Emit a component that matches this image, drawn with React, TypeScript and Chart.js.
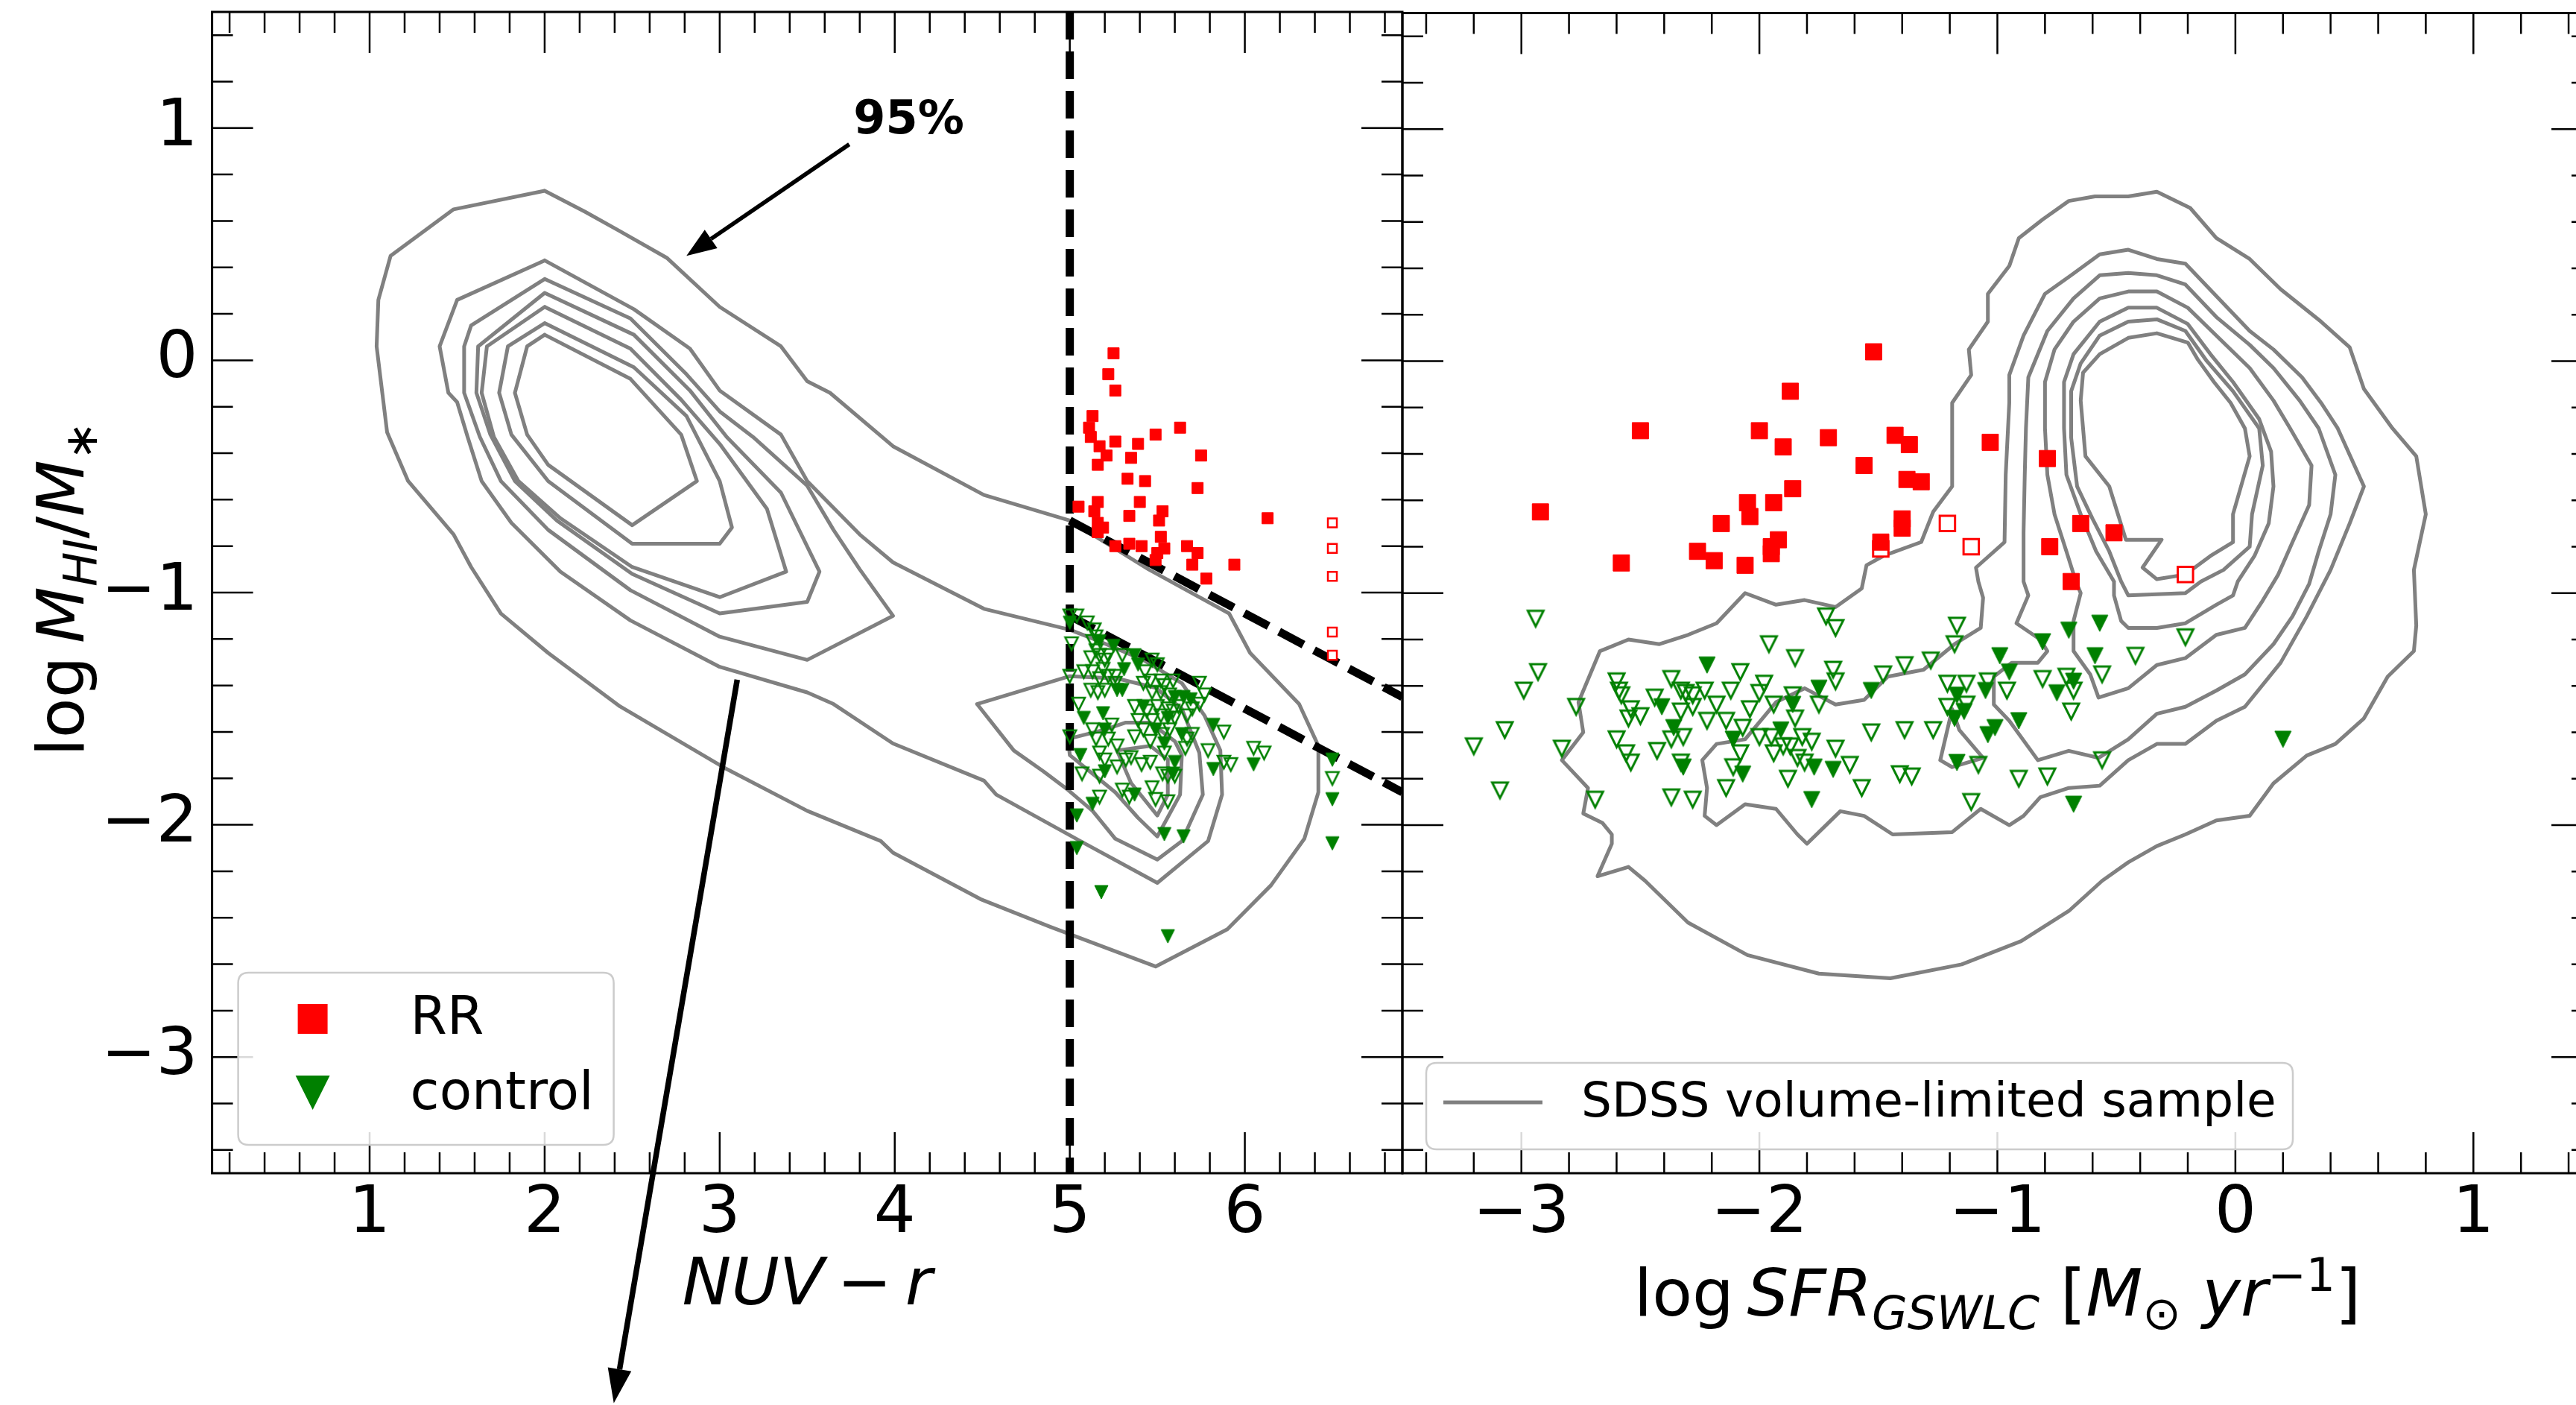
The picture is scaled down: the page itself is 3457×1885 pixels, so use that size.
import React, { useEffect, useRef } from 'react';
import { Chart, registerables } from 'chart.js';

Chart.register(...registerables);

type P = [number, number];

// ---------------- axes ----------------
const Y_MIN = -3.5, Y_MAX = 1.5;
const LEFT_X_MIN = 0.1, LEFT_X_MAX = 6.9;
const RIGHT_X_MIN = -3.5, RIGHT_X_MAX = 1.5;
const Y_TICKS = [-3, -2, -1, 0, 1];
const LEFT_X_TICKS = [1, 2, 3, 4, 5, 6];
const RIGHT_X_TICKS = [-3, -2, -1, 0, 1];
const MINOR_STEP = 0.2;

// ---------------- left panel: NUV - r ----------------
const leftRRFilled: P[] = [
  [5.25, 0.03], [5.22, -0.06], [5.26, -0.13], [5.13, -0.24], [5.11, -0.29], [5.12, -0.33], [5.17, -0.37],
  [5.26, -0.35], [5.21, -0.41], [5.16, -0.45], [5.39, -0.36], [5.49, -0.32], [5.63, -0.29], [5.35, -0.42],
  [5.75, -0.41], [5.33, -0.51], [5.43, -0.52], [5.73, -0.55], [5.05, -0.63], [5.16, -0.61], [5.14, -0.65],
  [5.40, -0.61], [5.34, -0.67], [5.53, -0.65], [5.51, -0.69], [5.16, -0.70], [5.19, -0.72], [5.16, -0.74],
  [5.26, -0.80], [5.34, -0.79], [5.41, -0.80], [5.52, -0.76], [5.54, -0.81], [5.50, -0.83], [5.49, -0.86],
  [5.67, -0.80], [5.73, -0.83], [5.70, -0.88], [5.78, -0.94], [5.94, -0.88], [6.13, -0.68],
];
const leftRROpen: P[] = [[6.5, -0.70], [6.5, -0.81], [6.5, -0.93], [6.5, -1.17], [6.5, -1.27]];

const leftCtrlFilled: P[] = [
  [5.00, -1.13], [5.17, -1.21], [5.25, -1.23], [5.37, -1.27], [5.39, -1.31], [5.31, -1.33], [5.27, -1.42],
  [5.30, -1.42], [5.60, -1.45], [5.65, -1.45], [5.69, -1.46], [5.08, -1.54], [5.19, -1.52], [5.42, -1.49],
  [5.56, -1.54], [5.20, -1.59], [5.49, -1.59], [5.64, -1.61], [5.54, -1.65], [5.82, -1.57], [5.06, -1.70],
  [5.60, -1.73], [5.20, -1.77], [5.59, -1.78], [5.82, -1.76], [6.05, -1.74], [5.37, -1.87], [5.13, -1.91],
  [5.04, -1.96], [5.54, -2.04], [5.65, -2.05], [5.04, -2.10], [5.18, -2.29], [5.56, -2.48], [6.50, -1.72],
  [6.50, -1.89], [6.50, -2.08],
];
const leftCtrlOpen: P[] = [
  [5.00, -1.10], [5.04, -1.10], [5.10, -1.13], [5.14, -1.16], [5.15, -1.19], [5.01, -1.22], [5.13, -1.21],
  [5.15, -1.25], [5.12, -1.28], [5.17, -1.27], [5.22, -1.27], [5.30, -1.27], [5.20, -1.29], [5.47, -1.29],
  [5.50, -1.31], [5.08, -1.34], [5.00, -1.36], [5.13, -1.34], [5.19, -1.33], [5.26, -1.36], [5.43, -1.34],
  [5.22, -1.36], [5.17, -1.37], [5.12, -1.42], [5.16, -1.43], [5.20, -1.42], [5.26, -1.39], [5.42, -1.39],
  [5.46, -1.38], [5.52, -1.38], [5.59, -1.38], [5.54, -1.40], [5.74, -1.39], [5.47, -1.43], [5.52, -1.43],
  [5.57, -1.44], [5.77, -1.44], [5.74, -1.48], [5.05, -1.48], [5.37, -1.49], [5.44, -1.51], [5.50, -1.49],
  [5.56, -1.50], [5.59, -1.51], [5.62, -1.49], [5.70, -1.50], [5.67, -1.53], [5.39, -1.55], [5.47, -1.55],
  [5.52, -1.53], [5.60, -1.54], [5.00, -1.62], [5.13, -1.59], [5.24, -1.57], [5.15, -1.63], [5.22, -1.63],
  [5.27, -1.66], [5.37, -1.62], [5.42, -1.59], [5.46, -1.64], [5.53, -1.61], [5.57, -1.59], [5.70, -1.61],
  [5.67, -1.63], [5.66, -1.67], [5.54, -1.69], [5.79, -1.68], [5.88, -1.60], [5.17, -1.69], [5.20, -1.72],
  [5.32, -1.72], [5.35, -1.71], [5.41, -1.74], [5.46, -1.73], [5.07, -1.78], [5.17, -1.79], [5.27, -1.75],
  [5.53, -1.78], [5.56, -1.79], [5.60, -1.79], [5.88, -1.73], [5.92, -1.74], [6.05, -1.67], [6.11, -1.69],
  [5.30, -1.85], [5.34, -1.88], [5.47, -1.84], [5.49, -1.89], [5.56, -1.90], [5.17, -1.88], [6.50, -1.80],
];

// SDSS density contours, left panel
const leftContourA: P[] = [
  [2.00, 0.73], [2.23, 0.64], [2.42, 0.56], [2.70, 0.44], [3.00, 0.23], [3.35, 0.06], [3.50, -0.09], [3.63, -0.14],
  [3.99, -0.37], [4.51, -0.58], [5.00, -0.69], [5.45, -0.90], [5.91, -1.09], [6.03, -1.26], [6.31, -1.48],
  [6.42, -1.66], [6.42, -1.86], [6.34, -2.06], [6.15, -2.26], [5.90, -2.45], [5.49, -2.61], [4.89, -2.44],
  [4.49, -2.32], [3.99, -2.12], [3.92, -2.07], [3.50, -1.94], [3.04, -1.76], [2.43, -1.49], [2.02, -1.26],
  [1.75, -1.09], [1.58, -0.89], [1.48, -0.75], [1.22, -0.52], [1.10, -0.31], [1.04, 0.06], [1.05, 0.26],
  [1.12, 0.45], [1.48, 0.65], [2.00, 0.73],
];
const leftContourB: P[] = [
  [2.00, 0.43], [2.51, 0.22], [2.83, 0.05], [3.00, -0.13], [3.35, -0.32], [3.50, -0.52], [3.80, -0.75],
  [3.99, -0.87], [4.51, -1.07], [5.00, -1.16], [5.17, -1.21], [5.42, -1.29], [5.64, -1.39], [5.77, -1.53],
  [5.86, -1.68], [5.87, -1.87], [5.79, -2.07], [5.50, -2.25], [5.06, -2.07], [4.58, -1.87], [4.51, -1.81],
  [3.99, -1.65], [3.65, -1.48], [3.50, -1.43], [3.00, -1.32], [2.49, -1.12], [2.09, -0.91], [1.81, -0.70],
  [1.64, -0.52], [1.56, -0.33], [1.50, -0.18], [1.45, -0.14], [1.40, 0.06], [1.50, 0.26], [2.00, 0.43],
];
const leftContourC: P[] = [
  [2.00, 0.35], [2.49, 0.18], [2.81, -0.06], [3.00, -0.22], [3.19, -0.33], [3.50, -0.54], [3.65, -0.73],
  [3.80, -0.90], [3.99, -1.10], [3.50, -1.29], [3.00, -1.19], [2.49, -0.99], [2.02, -0.73], [1.75, -0.52],
  [1.63, -0.33], [1.54, -0.14], [1.54, 0.06], [1.58, 0.15], [2.00, 0.35],
];
const leftContourD: P[] = [
  [2.00, 0.29], [2.51, 0.11], [2.83, -0.13], [3.04, -0.33], [3.35, -0.57], [3.57, -0.91], [3.50, -1.04],
  [3.00, -1.09], [2.50, -0.92], [2.07, -0.69], [1.83, -0.52], [1.69, -0.32], [1.61, -0.14], [1.62, 0.06],
  [2.00, 0.29],
];
const leftContourE: P[] = [
  [2.00, 0.23], [2.49, 0.05], [2.78, -0.17], [3.00, -0.36], [3.27, -0.64], [3.38, -0.91], [3.00, -1.02],
  [2.50, -0.89], [2.09, -0.68], [1.85, -0.52], [1.71, -0.33], [1.64, -0.14], [1.67, 0.06], [2.00, 0.23],
];
const leftContourF: P[] = [
  [2.00, 0.16], [2.51, -0.03], [2.81, -0.24], [3.00, -0.52], [3.07, -0.72], [3.00, -0.79], [2.50, -0.79],
  [2.02, -0.52], [1.81, -0.32], [1.74, -0.14], [1.79, 0.06], [2.00, 0.16],
];
const leftContourG: P[] = [
  [2.00, 0.11], [2.49, -0.08], [2.78, -0.32], [2.87, -0.52], [2.50, -0.71], [2.02, -0.45], [1.90, -0.32],
  [1.83, -0.14], [1.90, 0.06], [2.00, 0.11],
];
const leftContourRed1: P[] = [
  [4.47, -1.48], [5.00, -1.36], [5.27, -1.37], [5.49, -1.41], [5.64, -1.50], [5.74, -1.69], [5.76, -1.87],
  [5.64, -2.07], [5.50, -2.15], [5.26, -2.06], [5.13, -1.94], [4.99, -1.85], [4.85, -1.77], [4.68, -1.68],
  [4.47, -1.48],
];
const leftContourRed2: P[] = [
  [4.99, -1.63], [5.20, -1.59], [5.32, -1.56], [5.46, -1.56], [5.60, -1.64], [5.64, -1.70], [5.63, -1.87],
  [5.50, -2.05], [5.39, -1.97], [5.26, -1.86], [5.13, -1.78], [5.00, -1.70], [4.99, -1.63],
];
const leftContourRed3: P[] = [
  [5.27, -1.68], [5.35, -1.82], [5.50, -1.96], [5.56, -1.87], [5.56, -1.72], [5.46, -1.66], [5.27, -1.68],
];
const leftContours = [leftContourA, leftContourB, leftContourC, leftContourD, leftContourE, leftContourF,
  leftContourG, leftContourRed1, leftContourRed2, leftContourRed3];

// selection lines
const cutVertical: P[] = [[5, 1.5], [5, -3.5]];
const cutUpper: P[] = [[5, -0.69], [6.9, -1.45]];
const cutLower: P[] = [[5, -1.10], [6.9, -1.86]];

// annotations (data coordinates of the left panel)
const LABEL_95 = '95%';
const LABEL_95_POS: P = [4.08, 1.03];
const ARROW_95: P[] = [[3.74, 0.93], [2.81, 0.45]];
const ARROW_LONG: P[] = [[3.10, -1.375], [2.395, -4.49]];

// ---------------- right panel: log SFR ----------------
const rightRRFilled: P[] = [
  [-1.52, 0.04], [-1.87, -0.13], [-2.50, -0.30], [-2.00, -0.30], [-1.71, -0.33], [-1.90, -0.37], [-1.43, -0.32],
  [-1.37, -0.36], [-1.56, -0.45], [-1.03, -0.35], [-0.79, -0.42], [-1.38, -0.51], [-1.32, -0.52], [-1.86, -0.55],
  [-2.05, -0.61], [-1.94, -0.61], [-2.04, -0.67], [-2.16, -0.70], [-2.92, -0.65], [-1.40, -0.68], [-1.40, -0.72],
  [-1.92, -0.77], [-1.95, -0.80], [-1.95, -0.83], [-2.26, -0.82], [-2.19, -0.86], [-2.06, -0.88], [-2.58, -0.87],
  [-0.65, -0.70], [-0.51, -0.74], [-0.78, -0.80], [-0.69, -0.95], [-1.49, -0.78],
];
const rightRROpen: P[] = [[-1.21, -0.70], [-1.11, -0.80], [-1.49, -0.81], [-0.21, -0.92]];

const rightCtrlFilled: P[] = [
  [-2.41, -1.49], [-2.22, -1.31], [-1.75, -1.41], [-1.86, -1.48], [-2.36, -1.58], [-2.32, -1.75], [-2.11, -1.63],
  [-2.07, -1.78], [-1.91, -1.59], [-1.77, -1.75], [-1.69, -1.76], [-1.78, -1.89], [-1.53, -1.42], [-1.17, -1.44],
  [-1.14, -1.51], [-1.18, -1.54], [-1.05, -1.42], [-0.99, -1.27], [-0.95, -1.34], [-0.81, -1.21], [-0.68, -1.38],
  [-0.75, -1.43], [-0.70, -1.16], [-0.57, -1.13], [-0.59, -1.27], [-1.17, -1.73], [-1.01, -1.58], [-1.04, -1.61],
  [-0.91, -1.55], [-0.68, -1.91], [0.20, -1.63],
];
const rightCtrlOpen: P[] = [
  [-2.94, -1.11], [-2.93, -1.34], [-2.99, -1.42], [-2.77, -1.49], [-3.07, -1.59], [-3.20, -1.66], [-2.83, -1.67],
  [-3.09, -1.85], [-2.69, -1.89], [-2.60, -1.38], [-2.59, -1.42], [-2.58, -1.44], [-2.54, -1.50], [-2.50, -1.53],
  [-2.55, -1.54], [-2.44, -1.45], [-2.37, -1.37], [-2.33, -1.42], [-2.31, -1.43], [-2.28, -1.44], [-2.23, -1.42],
  [-2.28, -1.49], [-2.33, -1.51], [-2.18, -1.48], [-2.22, -1.55], [-2.14, -1.55], [-2.12, -1.42], [-2.08, -1.34],
  [-2.07, -1.58], [-2.04, -1.50], [-2.00, -1.43], [-1.98, -1.39], [-1.94, -1.48], [-1.96, -1.22], [-1.85, -1.28],
  [-1.72, -1.10], [-1.68, -1.15], [-1.69, -1.33], [-1.68, -1.38], [-1.75, -1.48], [-1.86, -1.44], [-1.85, -1.54],
  [-2.37, -1.63], [-2.32, -1.62], [-2.60, -1.63], [-2.56, -1.69], [-2.54, -1.73], [-2.43, -1.68], [-2.33, -1.73],
  [-2.37, -1.88], [-2.28, -1.89], [-2.08, -1.69], [-2.11, -1.75], [-2.14, -1.84], [-2.00, -1.62], [-1.95, -1.62],
  [-1.94, -1.69], [-1.90, -1.66], [-1.87, -1.66], [-1.82, -1.62], [-1.78, -1.64], [-1.84, -1.71], [-1.81, -1.73],
  [-1.68, -1.67], [-1.88, -1.80], [-1.17, -1.14], [-1.18, -1.22], [-1.28, -1.29], [-1.39, -1.31], [-1.48, -1.35],
  [-1.21, -1.39], [-1.13, -1.39], [-1.21, -1.49], [-1.13, -1.48], [-1.04, -1.38], [-0.96, -1.42], [-0.81, -1.37],
  [-0.71, -1.36], [-0.68, -1.42], [-0.69, -1.51], [-0.56, -1.35], [-0.42, -1.27], [-0.21, -1.19], [-1.53, -1.60],
  [-1.39, -1.59], [-1.27, -1.59], [-1.62, -1.74], [-1.57, -1.84], [-1.41, -1.78], [-1.36, -1.79], [-1.08, -1.74],
  [-1.11, -1.90], [-0.91, -1.80], [-0.79, -1.79], [-0.56, -1.72],
];

const rightContour1: P[] = [
  [-0.45, 0.71], [-0.33, 0.73], [-0.19, 0.66], [-0.08, 0.53], [0.06, 0.44], [0.19, 0.31], [0.36, 0.17],
  [0.48, 0.06], [0.54, -0.12], [0.66, -0.29], [0.76, -0.41], [0.80, -0.66], [0.75, -0.90], [0.76, -1.14],
  [0.75, -1.25], [0.64, -1.36], [0.54, -1.54], [0.42, -1.65], [0.30, -1.70], [0.16, -1.82], [0.06, -1.96],
  [-0.08, -1.98], [-0.21, -2.04], [-0.33, -2.09], [-0.45, -2.16], [-0.56, -2.24], [-0.70, -2.37], [-0.90, -2.50],
  [-1.15, -2.60], [-1.45, -2.66], [-1.75, -2.64], [-2.05, -2.56], [-2.30, -2.42], [-2.48, -2.24], [-2.55, -2.18],
  [-2.68, -2.22], [-2.62, -2.08], [-2.62, -2.04], [-2.66, -1.99], [-2.74, -1.95], [-2.72, -1.84], [-2.83, -1.72],
  [-2.74, -1.60], [-2.76, -1.47], [-2.67, -1.25], [-2.55, -1.20], [-2.42, -1.22], [-2.30, -1.18], [-2.18, -1.13],
  [-2.06, -1.00], [-1.93, -1.05], [-1.81, -1.03], [-1.68, -1.06], [-1.57, -0.98], [-1.55, -0.88], [-1.48, -0.84],
  [-1.32, -0.78], [-1.27, -0.65], [-1.19, -0.54], [-1.19, -0.18], [-1.11, -0.06], [-1.12, 0.05], [-1.04, 0.17],
  [-1.04, 0.29], [-0.95, 0.41], [-0.91, 0.53], [-0.81, 0.61], [-0.70, 0.69], [-0.59, 0.71], [-0.45, 0.71],
];
const rightContour2: P[] = [
  [-0.97, -0.78], [-0.965, -0.49], [-0.95, -0.18], [-0.95, -0.06], [-0.89, 0.11], [-0.80, 0.29], [-0.69, 0.37],
  [-0.57, 0.46], [-0.45, 0.48], [-0.33, 0.44], [-0.21, 0.42], [-0.08, 0.28], [0.06, 0.13], [0.16, 0.05],
  [0.28, -0.07], [0.36, -0.18], [0.43, -0.29], [0.54, -0.54], [0.48, -0.70], [0.40, -0.90], [0.30, -1.10],
  [0.19, -1.30], [0.04, -1.49], [-0.08, -1.55], [-0.21, -1.65], [-0.33, -1.65], [-0.45, -1.72], [-0.57, -1.83],
  [-0.70, -1.84], [-0.82, -1.88], [-0.89, -1.96], [-0.95, -2.00], [-1.07, -1.93], [-1.19, -2.03], [-1.44, -2.04],
  [-1.56, -1.96], [-1.66, -1.94], [-1.80, -2.08], [-1.84, -2.04], [-1.93, -1.93], [-2.06, -1.91], [-2.18, -2.00],
  [-2.23, -1.96], [-2.22, -1.84], [-2.24, -1.72], [-2.18, -1.65], [-2.06, -1.63], [-1.93, -1.47], [-1.81, -1.41],
  [-1.68, -1.48], [-1.56, -1.46], [-1.46, -1.36], [-1.31, -1.33], [-1.18, -1.22], [-1.07, -1.15], [-1.06, -1.02],
  [-1.08, -0.95], [-1.09, -0.89], [-0.97, -0.78],
];
const rightContour3: P[] = [
  [-0.89, -0.95], [-0.89, -0.74], [-0.885, -0.49], [-0.88, -0.29], [-0.87, -0.07], [-0.79, 0.13], [-0.68, 0.27],
  [-0.57, 0.37], [-0.45, 0.38], [-0.33, 0.37], [-0.21, 0.33], [-0.08, 0.19], [0.06, 0.07], [0.16, -0.03],
  [0.27, -0.17], [0.35, -0.29], [0.42, -0.49], [0.40, -0.66], [0.35, -0.82], [0.31, -0.96], [0.24, -1.10],
  [0.16, -1.22], [0.04, -1.35], [-0.08, -1.42], [-0.21, -1.49], [-0.33, -1.52], [-0.45, -1.63], [-0.575, -1.71],
  [-0.70, -1.68], [-0.83, -1.72], [-0.95, -1.55], [-1.015, -1.48], [-1.015, -1.36], [-0.94, -1.30], [-0.83, -1.30],
  [-0.79, -1.25], [-0.82, -1.20], [-0.92, -1.13], [-0.87, -1.01], [-0.89, -0.95],
];
const rightContour3Island: P[] = [
  [-1.24, -1.72], [-1.19, -1.75], [-1.06, -1.71], [-1.16, -1.59], [-1.19, -1.50], [-1.24, -1.72],
];
const rightContour4: P[] = [
  [-0.67, -0.95], [-0.71, -0.82], [-0.76, -0.66], [-0.79, -0.49], [-0.80, -0.29], [-0.80, -0.09], [-0.76, 0.05],
  [-0.68, 0.17], [-0.57, 0.27], [-0.45, 0.30], [-0.33, 0.30], [-0.20, 0.23], [-0.08, 0.11], [0.06, -0.03],
  [0.16, -0.17], [0.23, -0.29], [0.32, -0.45], [0.31, -0.62], [0.24, -0.78], [0.18, -0.92], [0.11, -1.04],
  [0.04, -1.15], [-0.08, -1.18], [-0.21, -1.28], [-0.33, -1.31], [-0.45, -1.41], [-0.575, -1.45], [-0.61, -1.35],
  [-0.68, -1.25], [-0.68, -1.12], [-0.65, -1.00], [-0.67, -0.95],
];
const rightContour5: P[] = [
  [-0.51, -0.95], [-0.585, -0.82], [-0.65, -0.66], [-0.71, -0.49], [-0.72, -0.29], [-0.72, -0.09], [-0.68, 0.03],
  [-0.57, 0.17], [-0.45, 0.23], [-0.33, 0.23], [-0.20, 0.16], [-0.105, 0.03], [-0.01, -0.09], [0.10, -0.25],
  [0.15, -0.39], [0.16, -0.54], [0.14, -0.70], [0.08, -0.84], [0.01, -0.95], [-0.01, -1.01], [-0.08, -1.05],
  [-0.21, -1.13], [-0.33, -1.15], [-0.45, -1.15], [-0.48, -1.12], [-0.51, -1.01], [-0.51, -0.95],
];
const rightContour6: P[] = [
  [-0.48, -0.95], [-0.53, -0.82], [-0.60, -0.68], [-0.665, -0.54], [-0.69, -0.33], [-0.69, -0.13], [-0.65, -0.01],
  [-0.57, 0.11], [-0.45, 0.17], [-0.33, 0.18], [-0.21, 0.13], [-0.12, 0.00], [-0.01, -0.13], [0.10, -0.29],
  [0.115, -0.45], [0.07, -0.66], [0.06, -0.80], [-0.05, -0.90], [-0.145, -0.95], [-0.21, -1.00], [-0.45, -1.01],
  [-0.48, -0.95],
];
const rightContour7: P[] = [
  [-0.57, 0.03], [-0.45, 0.10], [-0.33, 0.12], [-0.20, 0.08], [-0.16, 0.01], [-0.09, -0.09], [-0.02, -0.18],
  [0.04, -0.29], [0.06, -0.41], [-0.01, -0.66], [-0.01, -0.78], [-0.105, -0.84], [-0.21, -0.92], [-0.33, -0.94],
  [-0.39, -0.89], [-0.31, -0.77], [-0.46, -0.77], [-0.53, -0.54], [-0.63, -0.41], [-0.65, -0.17], [-0.64, -0.05],
  [-0.57, 0.03],
];
const rightContours = [rightContour1, rightContour2, rightContour3, rightContour3Island, rightContour4,
  rightContour5, rightContour6, rightContour7];

// ---------------- texts ----------------
type Seg = { t: string; it?: boolean; sc?: number; dy?: number };
const LEFT_X_TITLE: Seg[] = [{ t: 'NUV', it: true }, { t: '\u2009\u2212\u2009' }, { t: 'r', it: true }];
const RIGHT_X_TITLE: Seg[] = [
  { t: 'log' }, { t: '\u2009' }, { t: 'SFR', it: true }, { t: 'GSWLC', it: true, sc: 0.7, dy: 0.2 },
  { t: ' [' }, { t: 'M', it: true }, { t: '\u2299', sc: 0.7, dy: 0.2 }, { t: ' ' }, { t: 'yr', it: true },
  { t: '\u22121', sc: 0.7, dy: -0.38 }, { t: ']' },
];
const Y_TITLE: Seg[] = [
  { t: 'log' }, { t: '\u2009' }, { t: 'M', it: true }, { t: 'HI', it: true, sc: 0.7, dy: 0.2 }, { t: '/' },
  { t: 'M', it: true }, { t: '\u2217', sc: 0.7, dy: 0.2 },
];
const LEGEND_LEFT = ['RR', 'control'];
const LEGEND_RIGHT = ['SDSS volume-limited sample'];

// ---------------- styling ----------------
const FONT = '"DejaVu Sans", sans-serif';
const RED = '#ff0000';
const GREEN = '#008000';
const GRAY = '#808080';
const CLIP0 = { left: 0, top: 0, right: 0, bottom: 0 };
const PAGE_W = 3457, PAGE_H = 1885;
const LEFT_CANVAS = { x: 0, w: 1920, pad: { left: 284.6, top: 16, right: 38, bottom: 311 } };
const RIGHT_CANVAS = { x: 1860, w: 1640, pad: { left: 22, top: 16, right: 21, bottom: 311 } };

const toXY = (a: P[]) => a.map(([x, y]) => ({ x, y }));

function triImg(size: number, filled: boolean, color: string, lw: number) {
  const pad = Math.ceil(lw) + 1;
  const c = document.createElement('canvas');
  c.width = Math.round(size + 2 * pad);
  c.height = Math.round(size + 2 * pad);
  const g = c.getContext('2d')!;
  g.beginPath();
  g.moveTo(pad, pad);
  g.lineTo(pad + size, pad);
  g.lineTo(pad + size / 2, pad + size);
  g.closePath();
  if (filled) {
    g.fillStyle = color;
    g.fill();
    g.lineWidth = 1;
    g.strokeStyle = color;
    g.stroke();
  } else {
    g.lineJoin = 'miter';
    g.strokeStyle = color;
    g.lineWidth = lw;
    g.stroke();
  }
  return c;
}

function segFont(s: Seg, size: number) {
  return `${s.it ? 'italic ' : ''}${(size * (s.sc ?? 1)).toFixed(1)}px ${FONT}`;
}
function segsWidth(ctx: CanvasRenderingContext2D, segs: Seg[], size: number) {
  let w = 0;
  for (const s of segs) {
    ctx.font = segFont(s, size);
    w += ctx.measureText(s.t).width;
  }
  return w;
}
function drawSegs(ctx: CanvasRenderingContext2D, segs: Seg[], x: number, y: number, size: number) {
  ctx.textAlign = 'left';
  ctx.textBaseline = 'alphabetic';
  let cx = x;
  for (const s of segs) {
    ctx.font = segFont(s, size);
    ctx.fillText(s.t, cx, y + (s.dy ?? 0) * size);
    cx += ctx.measureText(s.t).width;
  }
}
function fmt(v: number) {
  return v < 0 ? '\u2212' + Math.abs(v) : String(v);
}
function minorTicks(min: number, max: number) {
  const out: number[] = [];
  for (let k = Math.ceil(min / MINOR_STEP - 1e-9); k * MINOR_STEP <= max + 1e-9; k++) {
    const v = +(k * MINOR_STEP).toFixed(6);
    if (Math.abs(v - Math.round(v)) > 1e-6 && v > min + 1e-9 && v < max - 1e-9) out.push(v);
  }
  return out;
}
function drawArrow(ctx: CanvasRenderingContext2D, x1: number, y1: number, x2: number, y2: number,
  lw: number, headLen: number, headW: number) {
  const ang = Math.atan2(y2 - y1, x2 - x1);
  const bx = x2 - Math.cos(ang) * headLen;
  const by = y2 - Math.sin(ang) * headLen;
  ctx.strokeStyle = '#000';
  ctx.fillStyle = '#000';
  ctx.lineWidth = lw;
  ctx.lineCap = 'butt';
  ctx.beginPath();
  ctx.moveTo(x1, y1);
  ctx.lineTo(bx, by);
  ctx.stroke();
  ctx.beginPath();
  ctx.moveTo(x2, y2);
  ctx.lineTo(bx + (Math.sin(ang) * headW) / 2, by - (Math.cos(ang) * headW) / 2);
  ctx.lineTo(bx - (Math.sin(ang) * headW) / 2, by + (Math.cos(ang) * headW) / 2);
  ctx.closePath();
  ctx.fill();
}
function roundRect(ctx: CanvasRenderingContext2D, x: number, y: number, w: number, h: number, r: number) {
  ctx.beginPath();
  ctx.moveTo(x + r, y);
  ctx.lineTo(x + w - r, y);
  ctx.quadraticCurveTo(x + w, y, x + w, y + r);
  ctx.lineTo(x + w, y + h - r);
  ctx.quadraticCurveTo(x + w, y + h, x + w - r, y + h);
  ctx.lineTo(x + r, y + h);
  ctx.quadraticCurveTo(x, y + h, x, y + h - r);
  ctx.lineTo(x, y + r);
  ctx.quadraticCurveTo(x, y, x + r, y);
  ctx.closePath();
}

function axesPlugin(opts: { xTicks: number[]; yLabels: boolean; xTitle: Seg[]; xTitleBase: number; extra?: (c: any) => void }) {
  return {
    id: 'mplAxes',
    afterDraw(chart: any) {
      const { ctx, chartArea: a, scales } = chart;
      const xs = scales.x, ys = scales.y;
      ctx.save();
      // ticks (inward, all four sides)
      ctx.strokeStyle = '#000';
      ctx.lineWidth = 2.5;
      ctx.beginPath();
      const xMinor = minorTicks(xs.min, xs.max);
      const yMinor = minorTicks(ys.min, ys.max);
      const vx = (v: number, len: number) => {
        const p = xs.getPixelForValue(v);
        ctx.moveTo(p, a.bottom); ctx.lineTo(p, a.bottom - len);
        ctx.moveTo(p, a.top); ctx.lineTo(p, a.top + len);
      };
      const vy = (v: number, len: number) => {
        const p = ys.getPixelForValue(v);
        ctx.moveTo(a.left, p); ctx.lineTo(a.left + len, p);
        ctx.moveTo(a.right, p); ctx.lineTo(a.right - len, p);
      };
      opts.xTicks.forEach((v) => vx(v, 55));
      xMinor.forEach((v) => vx(v, 28));
      Y_TICKS.forEach((v) => vy(v, 55));
      yMinor.forEach((v) => vy(v, 28));
      ctx.stroke();
      // spines
      ctx.lineWidth = 3;
      ctx.strokeRect(a.left, a.top, a.right - a.left, a.bottom - a.top);
      // tick labels
      ctx.fillStyle = '#000';
      ctx.font = `88px ${FONT}`;
      ctx.textAlign = 'center';
      ctx.textBaseline = 'alphabetic';
      opts.xTicks.forEach((v) => ctx.fillText(fmt(v), xs.getPixelForValue(v), a.bottom + 79));
      if (opts.yLabels) {
        ctx.textAlign = 'right';
        ctx.textBaseline = 'middle';
        Y_TICKS.forEach((v) => ctx.fillText(fmt(v), a.left - 19, ys.getPixelForValue(v)));
      }
      // x title
      const w = segsWidth(ctx, opts.xTitle, 88);
      drawSegs(ctx, opts.xTitle, (a.left + a.right) / 2 - w / 2, opts.xTitleBase, 88);
      if (opts.extra) opts.extra(chart);
      ctx.restore();
    },
  };
}

export default function App() {
  const leftRef = useRef<HTMLCanvasElement>(null);
  const rightRef = useRef<HTMLCanvasElement>(null);

  useEffect(() => {
    const triL = triImg(18, true, GREEN, 1);
    const triLo = triImg(17, false, GREEN, 2.6);
    const triR = triImg(22, true, GREEN, 1);
    const triRo = triImg(21, false, GREEN, 3);

    const contourDs = (c: P[]) => ({
      data: toXY(c), showLine: true, borderColor: GRAY, borderWidth: 5, pointRadius: 0, pointHoverRadius: 0,
      fill: false, tension: 0, borderJoinStyle: 'round', borderCapStyle: 'round', clip: CLIP0, order: 5,
    });
    const dashDs = (c: P[]) => ({
      data: toXY(c), showLine: true, borderColor: '#000', borderWidth: 11, borderDash: [37, 16], pointRadius: 0,
      pointHoverRadius: 0, fill: false, tension: 0, clip: CLIP0, order: 2,
    });
    const ptDs = (c: P[], style: any, r: number, bg: string, border: string, bw: number, order: number) => ({
      data: toXY(c), showLine: false, pointStyle: style, pointRadius: r, pointHoverRadius: r,
      pointBackgroundColor: bg, pointBorderColor: border, pointBorderWidth: bw, pointHoverBorderWidth: bw,
      backgroundColor: bg, borderColor: border, clip: CLIP0, order,
    });

    const baseOptions = (xmin: number, xmax: number, pad: any) => ({
      responsive: false, maintainAspectRatio: false, animation: false, devicePixelRatio: 1, events: [],
      layout: { padding: pad },
      plugins: { legend: { display: false }, tooltip: { enabled: false } },
      scales: {
        x: { type: 'linear', min: xmin, max: xmax, display: false },
        y: { type: 'linear', min: Y_MIN, max: Y_MAX, display: false },
      },
    });

    const leftExtra = (chart: any) => {
      const { ctx, chartArea: a, scales } = chart;
      const X = (v: number) => scales.x.getPixelForValue(v);
      const Y = (v: number) => scales.y.getPixelForValue(v);
      // y title (rotated)
      ctx.save();
      ctx.fillStyle = '#000';
      const w = segsWidth(ctx, Y_TITLE, 88);
      ctx.translate(112, (a.top + a.bottom) / 2 - 5);
      ctx.rotate(-Math.PI / 2);
      drawSegs(ctx, Y_TITLE, -w / 2, 0, 88);
      ctx.restore();
      // 95% annotation
      ctx.fillStyle = '#000';
      ctx.font = `bold 62px ${FONT}`;
      ctx.textAlign = 'center';
      ctx.textBaseline = 'middle';
      ctx.fillText(LABEL_95, X(LABEL_95_POS[0]), Y(LABEL_95_POS[1]));
      drawArrow(ctx, X(ARROW_95[0][0]), Y(ARROW_95[0][1]), X(ARROW_95[1][0]), Y(ARROW_95[1][1]), 5.5, 40, 30);
      drawArrow(ctx, X(ARROW_LONG[0][0]), Y(ARROW_LONG[0][1]), X(ARROW_LONG[1][0]), Y(ARROW_LONG[1][1]), 7.5, 46, 32);
      // legend
      const bx = a.left + 35, bw = 504, bh = 231, by = a.bottom - 38 - bh;
      roundRect(ctx, bx, by, bw, bh, 14);
      ctx.fillStyle = 'rgba(255,255,255,0.85)';
      ctx.fill();
      ctx.strokeStyle = '#cccccc';
      ctx.lineWidth = 2.5;
      ctx.stroke();
      ctx.fillStyle = RED;
      ctx.fillRect(bx + 100 - 20, by + 62 - 20, 40, 40);
      ctx.fillStyle = GREEN;
      ctx.beginPath();
      ctx.moveTo(bx + 100 - 23, by + 161 - 23);
      ctx.lineTo(bx + 100 + 23, by + 161 - 23);
      ctx.lineTo(bx + 100, by + 161 + 23);
      ctx.closePath();
      ctx.fill();
      ctx.fillStyle = '#000';
      ctx.font = `71px ${FONT}`;
      ctx.textAlign = 'left';
      ctx.textBaseline = 'middle';
      ctx.fillText(LEGEND_LEFT[0], bx + 231, by + 64);
      ctx.fillText(LEGEND_LEFT[1], bx + 231, by + 165);
    };

    const rightExtra = (chart: any) => {
      const { ctx, chartArea: a } = chart;
      const bx = a.left + 32, bw = 1163, bh = 116, by = a.bottom - 32 - bh;
      roundRect(ctx, bx, by, bw, bh, 14);
      ctx.fillStyle = 'rgba(255,255,255,0.85)';
      ctx.fill();
      ctx.strokeStyle = '#cccccc';
      ctx.lineWidth = 2.5;
      ctx.stroke();
      ctx.strokeStyle = GRAY;
      ctx.lineWidth = 5;
      ctx.beginPath();
      ctx.moveTo(bx + 23, by + 53);
      ctx.lineTo(bx + 156, by + 53);
      ctx.stroke();
      ctx.fillStyle = '#000';
      ctx.font = `64.5px ${FONT}`;
      ctx.textAlign = 'left';
      ctx.textBaseline = 'middle';
      ctx.fillText(LEGEND_RIGHT[0], bx + 208, by + 55);
    };

    const left = new Chart(leftRef.current!, {
      type: 'scatter',
      data: {
        datasets: [
          ...leftContours.map(contourDs),
          dashDs(cutVertical), dashDs(cutUpper), dashDs(cutLower),
          ptDs(leftCtrlOpen, triLo, 10, 'rgba(0,0,0,0)', GREEN, 2.5, 1),
          ptDs(leftCtrlFilled, triL, 10, GREEN, GREEN, 1, 1),
          ptDs(leftRRFilled, 'rect', 10.6, RED, RED, 1, 0),
          ptDs(leftRROpen, 'rect', 8.5, '#ffffff', RED, 2.5, 0),
        ] as any,
      },
      options: baseOptions(LEFT_X_MIN, LEFT_X_MAX, LEFT_CANVAS.pad) as any,
      plugins: [axesPlugin({ xTicks: LEFT_X_TICKS, yLabels: true, xTitle: LEFT_X_TITLE, xTitleBase: 1750, extra: leftExtra })],
    });

    const right = new Chart(rightRef.current!, {
      type: 'scatter',
      data: {
        datasets: [
          ...rightContours.map(contourDs),
          ptDs(rightCtrlOpen, triRo, 12, 'rgba(0,0,0,0)', GREEN, 2.8, 1),
          ptDs(rightCtrlFilled, triR, 12, GREEN, GREEN, 1, 1),
          ptDs(rightRRFilled, 'rect', 15.5, RED, RED, 1, 0),
          ptDs(rightRROpen, 'rect', 14.5, '#ffffff', RED, 3, 0),
        ] as any,
      },
      options: baseOptions(RIGHT_X_MIN, RIGHT_X_MAX, RIGHT_CANVAS.pad) as any,
      plugins: [axesPlugin({ xTicks: RIGHT_X_TICKS, yLabels: false, xTitle: RIGHT_X_TITLE, xTitleBase: 1765, extra: rightExtra })],
    });

    return () => {
      left.destroy();
      right.destroy();
    };
  }, []);

  return (
    <div style={{ position: 'absolute', left: 0, top: 0, width: PAGE_W, height: PAGE_H, overflow: 'hidden', background: '#fff' }}>
      <canvas ref={leftRef} width={LEFT_CANVAS.w} height={PAGE_H}
        style={{ position: 'absolute', left: LEFT_CANVAS.x, top: 0, width: LEFT_CANVAS.w, height: PAGE_H }} />
      <canvas ref={rightRef} width={RIGHT_CANVAS.w} height={PAGE_H}
        style={{ position: 'absolute', left: RIGHT_CANVAS.x, top: 0, width: RIGHT_CANVAS.w, height: PAGE_H }} />
    </div>
  );
}
